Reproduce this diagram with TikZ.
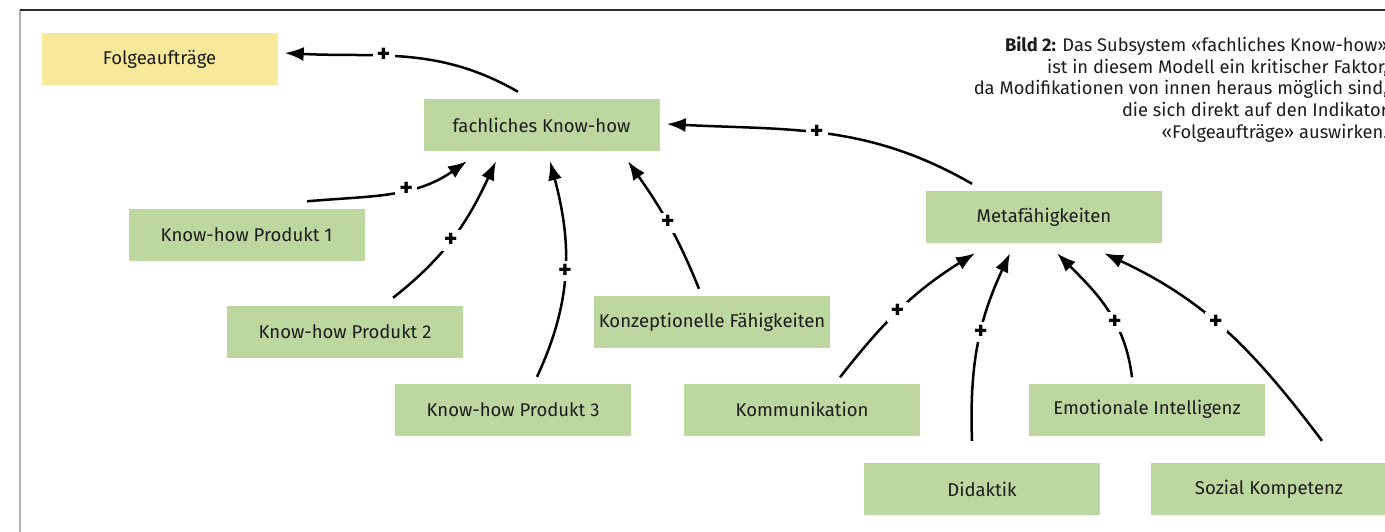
\documentclass[tikz,border=0pt]{standalone}
\usepackage{fontspec}
\setmainfont{Fira Sans}
\usetikzlibrary{arrows.meta}
\definecolor{boxgreen}{HTML}{BCD7A0}
\definecolor{boxyellow}{HTML}{F7E89A}
\definecolor{txt}{HTML}{1C1C1C}
\tikzset{
  box/.style={rectangle, minimum width=236pt, minimum height=52pt, inner sep=0pt,
    text=txt, font=\fontsize{18.5}{22}\selectfont},
  gbox/.style={box, fill=boxgreen},
  ybox/.style={box, fill=boxyellow},
  conn/.style={line width=2.5pt, -{Latex[length=19pt,width=14pt]}},
  plus/.style={fill=white, inner xsep=4pt, inner ysep=3pt, text=black, font=\fontsize{26}{26}\selectfont\bfseries},
}
\begin{document}
\begin{tikzpicture}[x=1pt,y=1pt]
\useasboundingbox (0,0) rectangle (1385,-532);
% frame
\draw[gray!60, line width=2pt] (19.5,-532) -- (19.5,-10);
\draw[gray!35!black, line width=1.3pt] (19.5,-10) -- (1385,-10);
% caption
\node[anchor=north east, inner sep=0pt, align=right, text=txt,
  font=\fontsize{18.3}{21.7}\selectfont] (cap) at (1388,-36.5)
  {\textbf{Bild 2:} Das Subsystem «fachliches Know-how»\\
   ist in diesem Modell ein kritischer Faktor,\\
   da Modifikationen von innen heraus möglich sind,\\
   die sich direkt auf den Indikator\\
   «Folgeaufträge» auswirken.};
% boxes
\node[ybox] (folg) at (159.5,-59) {Folgeaufträge};
\node[gbox] (fach) at (541.5,-125) {fachliches Know-how};
\node[gbox] (kp1) at (246.5,-234.5) {Know-how Produkt 1};
\node[gbox] (kp2) at (345,-332) {Know-how Produkt 2};
\node[gbox] (kp3) at (513,-410) {Know-how Produkt 3};
\node[gbox] (konz) at (712,-322) {Konzeptionelle Fähigkeiten};
\node[gbox] (meta) at (1044,-217) {Metafähigkeiten};
\node[gbox] (komm) at (802,-409.5) {Kommunikation};
\node[gbox] (emo) at (1147,-409.5) {Emotionale Intelligenz};
\node[gbox] (dida) at (982,-489) {Didaktik};
\node[gbox] (soz) at (1269,-489) {Sozial Kompetenz};
% connectors
\draw[conn] ([xshift=-23.5pt,yshift=7pt]fach.north) to[out=150,in=-3]
  node[plus,pos=0.6] {+} ([xshift=7pt,yshift=6pt]folg.east);
\draw[conn] ([xshift=-72pt,yshift=7pt]meta.north) to[out=150,in=-3]
  node[plus,pos=0.53] {+} ([xshift=7pt,yshift=1pt]fach.east);
\draw[conn] ([xshift=60.5pt,yshift=7pt]kp1.north) to[out=5,in=215]
  node[plus,pos=0.6] {+} ([xshift=-74.5pt,yshift=-10pt]fach.south);
\draw[conn] ([xshift=48pt,yshift=8pt]kp2.north) to[out=38,in=245]
  node[plus,pos=0.47] {+} ([xshift=-45.5pt,yshift=-10pt]fach.south);
\draw[conn] ([xshift=24pt,yshift=7pt]kp3.north) to[out=65,in=-75]
  node[plus,pos=0.5] {+} ([xshift=8.5pt,yshift=-10pt]fach.south);
\draw[conn] ([xshift=-13pt,yshift=7pt]konz.north) to[out=112,in=-55]
  node[plus,pos=0.5] {+} ([xshift=86.5pt,yshift=-10pt]fach.south);
\draw[conn] ([xshift=38pt,yshift=6pt]komm.north) to[out=52,in=212]
  node[plus,pos=0.47] {+} ([xshift=-69pt,yshift=-10pt]meta.south);
\draw[conn] ([xshift=-10pt,yshift=22pt]dida.north) to[out=92,in=245]
  node[plus,pos=0.57] {+} ([xshift=-34pt,yshift=-10pt]meta.south);
\draw[conn] ([xshift=-15pt,yshift=6pt]emo.north) to[out=97,in=-45]
  node[plus,pos=0.39] {+} ([xshift=13pt,yshift=-10pt]meta.south);
\draw[conn] ([xshift=53pt,yshift=22pt]soz.north) to[out=127,in=-25]
  node[plus,pos=0.55] {+} ([xshift=60pt,yshift=-10pt]meta.south);
\end{tikzpicture}
\end{document}
